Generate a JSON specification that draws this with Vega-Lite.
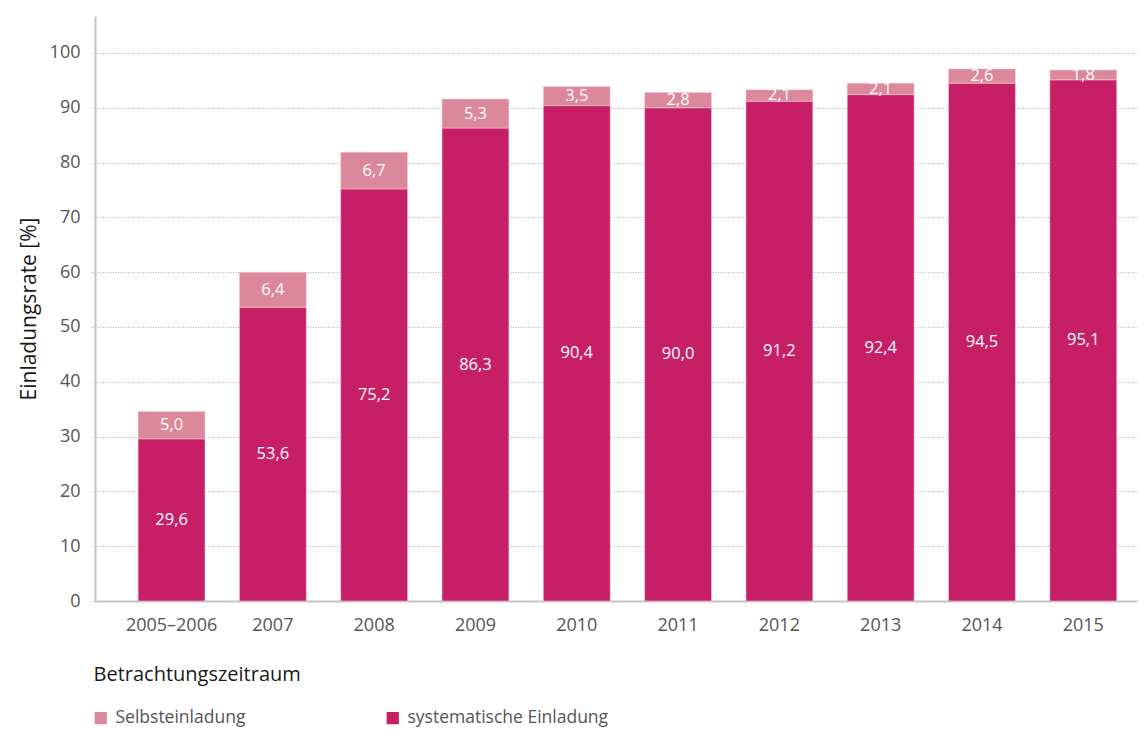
{
  "$schema": "https://vega.github.io/schema/vega-lite/v6.json",
  "autosize": "none",
  "width": 1042,
  "height": 585,
  "padding": {"left": 95, "top": 16, "right": 8, "bottom": 128},
  "config": {
    "font": "Open Sans",
    "view": {"stroke": null},
    "locale": {"number": {"decimal": ",", "thousands": ".", "grouping": [3], "currency": ["", " €"]}}
  },
  "data": {
    "values": [
      {"zeitraum": "2005–2006", "typ": "systematische Einladung", "wert": 29.6},
      {"zeitraum": "2005–2006", "typ": "Selbsteinladung", "wert": 5.0},
      {"zeitraum": "2007", "typ": "systematische Einladung", "wert": 53.6},
      {"zeitraum": "2007", "typ": "Selbsteinladung", "wert": 6.4},
      {"zeitraum": "2008", "typ": "systematische Einladung", "wert": 75.2},
      {"zeitraum": "2008", "typ": "Selbsteinladung", "wert": 6.7},
      {"zeitraum": "2009", "typ": "systematische Einladung", "wert": 86.3},
      {"zeitraum": "2009", "typ": "Selbsteinladung", "wert": 5.3},
      {"zeitraum": "2010", "typ": "systematische Einladung", "wert": 90.4},
      {"zeitraum": "2010", "typ": "Selbsteinladung", "wert": 3.5},
      {"zeitraum": "2011", "typ": "systematische Einladung", "wert": 90.0},
      {"zeitraum": "2011", "typ": "Selbsteinladung", "wert": 2.8},
      {"zeitraum": "2012", "typ": "systematische Einladung", "wert": 91.2},
      {"zeitraum": "2012", "typ": "Selbsteinladung", "wert": 2.1},
      {"zeitraum": "2013", "typ": "systematische Einladung", "wert": 92.4},
      {"zeitraum": "2013", "typ": "Selbsteinladung", "wert": 2.1},
      {"zeitraum": "2014", "typ": "systematische Einladung", "wert": 94.5},
      {"zeitraum": "2014", "typ": "Selbsteinladung", "wert": 2.6},
      {"zeitraum": "2015", "typ": "systematische Einladung", "wert": 95.1},
      {"zeitraum": "2015", "typ": "Selbsteinladung", "wert": 1.8}
    ]
  },
  "transform": [
    {"stack": "wert", "groupby": ["zeitraum"], "sort": [{"field": "typ", "order": "descending"}], "as": ["y0", "y1"]},
    {"calculate": "(datum.y0 + datum.y1) / 2", "as": "ymid"}
  ],
  "encoding": {
    "x": {
      "field": "zeitraum",
      "type": "nominal",
      "sort": null,
      "scale": {"paddingInner": 0.34, "paddingOuter": 0.313, "align": 0.68},
      "axis": {
        "title": "Betrachtungszeitraum",
        "titleFont": "Open Sans",
        "titleFontSize": 20,
        "titleFontWeight": "normal",
        "titleColor": "#1a1a1a",
        "titleAnchor": "start",
        "titleAlign": "left",
        "titleBaseline": "alphabetic",
        "titleX": -2,
        "titleY": 79,
        "labelAngle": 0,
        "labelFontSize": 18,
        "labelColor": "#555555",
        "labelPadding": 15,
        "ticks": false,
        "domainColor": "#c4c4c4",
        "domainWidth": 2,
        "grid": false
      }
    }
  },
  "layer": [
    {
      "mark": {"type": "bar", "stroke": "#f3d3dc", "strokeWidth": 0.5},
      "encoding": {
        "y": {
          "field": "y1",
          "type": "quantitative",
          "scale": {"domain": [0, 106.75], "nice": false},
          "axis": {
            "title": "Einladungsrate [%]",
            "titleFontSize": 21,
            "titleFontWeight": "normal",
            "titleColor": "#1a1a1a",
            "titlePadding": 10,
            "values": [0, 10, 20, 30, 40, 50, 60, 70, 80, 90, 100],
            "labelFontSize": 18,
            "labelColor": "#555555",
            "labelPadding": 10,
            "tickSize": 5,
            "tickColor": "#b0b0b0",
            "tickDash": [1, 1.5],
            "gridColor": "#b0b0b0",
            "gridDash": [1, 1.5],
            "gridWidth": 1,
            "domainColor": "#c4c4c4",
            "domainWidth": 2
          }
        },
        "y2": {"field": "y0"},
        "color": {
          "field": "typ",
          "type": "nominal",
          "scale": {"domain": ["Selbsteinladung", "systematische Einladung"], "range": ["#dc889b", "#c71f66"]},
          "legend": {
            "title": null,
            "orient": "none",
            "legendX": -3,
            "legendY": 693,
            "direction": "horizontal",
            "symbolType": "square",
            "symbolSize": 150,
            "symbolStrokeWidth": 0,
            "labelFontSize": 17.5,
            "labelColor": "#555555",
            "labelOffset": 6,
            "columnPadding": 138,
            "labelLimit": 300
          }
        }
      }
    },
    {
      "mark": {"type": "text", "color": "white", "fontSize": 16.5, "baseline": "middle"},
      "encoding": {
        "y": {"field": "ymid", "type": "quantitative"},
        "text": {"field": "wert", "type": "quantitative", "format": ".1f"}
      }
    }
  ]
}
